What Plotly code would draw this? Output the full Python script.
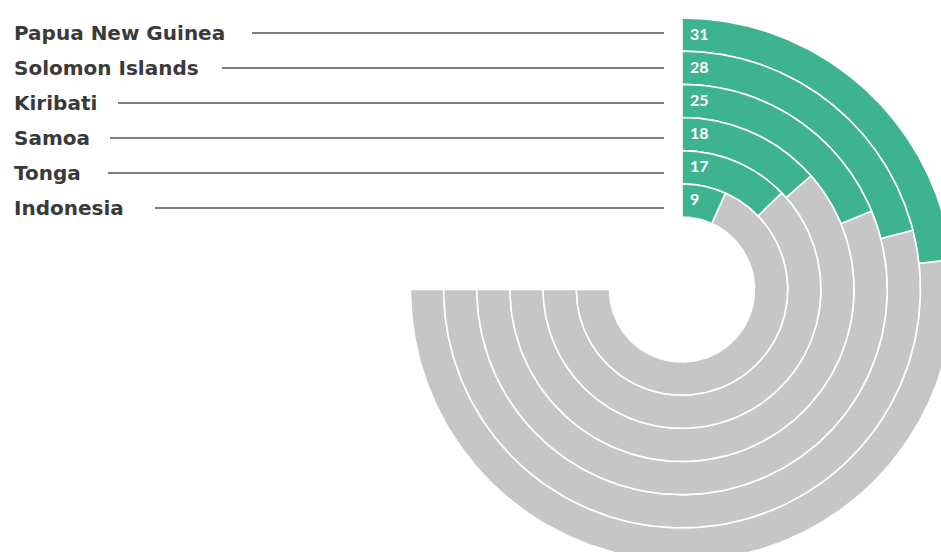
import numpy as np
import plotly.graph_objects as go

# Share values (out of 100) per country, outermost ring first
countries = ["Papua New Guinea", "Solomon Islands", "Kiribati", "Samoa", "Tonga", "Indonesia"]
values = [31, 28, 25, 18, 17, 9]
value_labels = ["31", "28", "25", "18", "17", "9"]

# Scale and styling
MAX_VALUE = 100
SWEEP_DEG = 270
GREEN = "#3db38f"
GREY = "#c6c6c6"
TEXT_COLOR = "#3a3a3a"
LINE_COLOR = "#555555"

W, H = 941, 552
CX, CY = 682, 289.5          # ring centre in pixels
R_INNER, R_OUTER = 72.5, 271.5
n = len(countries)
pitch = (R_OUTER - R_INNER) / n

# Label rows and leader lines (pixel layout)
LABEL_X = 12
LABEL_TOP = 33
ROW_STEP = 35
LINE_END_X = 664
line_start_x = [252, 222, 118, 110, 108, 155]


def arc_polygon(r0, r1, a0, a1, steps=240):
    """Closed ring-segment outline; angles in degrees, clockwise from 12 o'clock."""
    t = np.radians(np.linspace(a0, a1, steps))
    xo, yo = r1 * np.sin(t), r1 * np.cos(t)
    xi, yi = r0 * np.sin(t[::-1]), r0 * np.cos(t[::-1])
    xs = np.concatenate([xo, xi, xo[:1]])
    ys = np.concatenate([yo, yi, yo[:1]])
    return xs, ys


fig = go.Figure()

for i, (name, v) in enumerate(zip(countries, values)):
    k = n - 1 - i                      # 0 = innermost ring
    r0 = R_INNER + k * pitch
    r1 = r0 + pitch
    end = v / MAX_VALUE * SWEEP_DEG
    gx, gy = arc_polygon(r0, r1, end, SWEEP_DEG)
    fig.add_trace(go.Scatter(x=gx, y=gy, mode="lines", fill="toself",
                             fillcolor=GREY, line=dict(color="white", width=1.6),
                             hoverinfo="skip", showlegend=False))
    vx, vy = arc_polygon(r0, r1, 0, end)
    fig.add_trace(go.Scatter(x=vx, y=vy, mode="lines", fill="toself",
                             fillcolor=GREEN, line=dict(color="white", width=1.6),
                             hoverinfo="skip", showlegend=False))
    # value label at the start of the green arc
    fig.add_annotation(x=6, y=(r0 + r1) / 2 + 1.5, xref="x", yref="y",
                       text=f"<b>{value_labels[i]}</b>", showarrow=False,
                       xanchor="left", yanchor="middle",
                       font=dict(family="Lato", size=16, color="white"))


def py(px):
    return 1 - px / H


for i, name in enumerate(countries):
    y_px = LABEL_TOP + ROW_STEP * i
    fig.add_annotation(x=LABEL_X / W, y=py(y_px), xref="paper", yref="paper",
                       text=f"<b>{name}</b>", showarrow=False,
                       xanchor="left", yanchor="middle",
                       font=dict(family="DejaVu Sans", size=20, color=TEXT_COLOR))
    fig.add_shape(type="line", xref="paper", yref="paper",
                  x0=line_start_x[i] / W, x1=LINE_END_X / W,
                  y0=py(y_px), y1=py(y_px),
                  line=dict(color=LINE_COLOR, width=1.3))

fig.update_layout(
    width=W, height=H,
    margin=dict(l=0, r=0, t=0, b=0),
    paper_bgcolor="white", plot_bgcolor="white",
    xaxis=dict(range=[-CX, W - CX], visible=False, fixedrange=True),
    yaxis=dict(range=[CY - H, CY], visible=False, fixedrange=True),
    showlegend=False,
)

fig.write_html("out.html")
